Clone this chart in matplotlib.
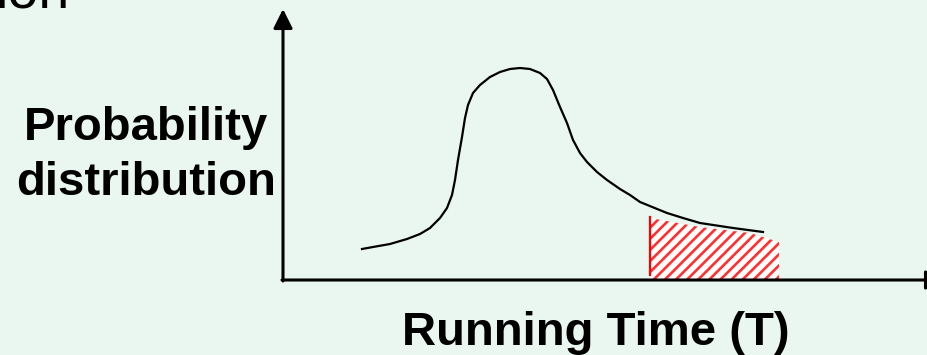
import matplotlib.pyplot as plt
import numpy as np

plt.rcParams['font.family'] = ['Liberation Sans', 'DejaVu Sans']
plt.rcParams['hatch.color'] = '#ff3030'
plt.rcParams['hatch.linewidth'] = 1.9

# curve (running time, density) in axis units
t = [79, 90, 107, 124, 137, 147, 157, 164, 169, 172, 175, 179, 182, 185,
     190, 197, 207, 217, 227, 237, 247, 257, 264, 270, 277, 284, 290, 297,
     304, 314, 324, 337, 347, 357, 384, 400, 417, 450, 480]
p = [31, 33, 36, 41, 46, 52, 62, 72, 85, 100, 120, 143, 162, 175,
     187, 195, 203, 208, 211, 212, 211, 207, 201, 190, 173, 157, 140, 127,
     118, 108, 100, 91, 85, 78, 67, 62, 57, 52, 48]

# shaded tail
tail_t = [367, 417, 467, 496]
tail_p = [62, 53, 47, 38]

ylabel_lines = ["Probability", "distribution"]
xlabel = "Running Time (T)"
title_frag = "ion"

bg = '#eaf7f0'
fig = plt.figure(figsize=(9.27, 3.55), dpi=100)
fig.patch.set_facecolor(bg)
ax = fig.add_axes([283/927, 75/355, 644/927, 280/355])
ax.set_xlim(0, 644)
ax.set_ylim(0, 280)
ax.axis('off')

ax.plot(t, p, color='black', lw=1.6, solid_joinstyle='round')

ax.fill_between(tail_t, 0, tail_p, facecolor='white', edgecolor='#ff3030',
                hatch='///', linewidth=0)
ax.plot([tail_t[0], tail_t[0]], [5, tail_p[0] + 1], color='red', lw=1.6)

arrow = dict(arrowstyle='-|>,head_length=0.58,head_width=0.29',
             mutation_scale=20, lw=2.2, color='black', shrinkA=0, shrinkB=0)
ax.annotate('', xy=(0, 271), xytext=(0, -1), arrowprops=arrow,
            annotation_clip=False)
ax.annotate('', xy=(662, 0), xytext=(-1, 0), arrowprops=arrow,
            annotation_clip=False)

ax.text(-137, 140, ylabel_lines[0], fontsize=34, fontweight='bold',
        ha='center', va='baseline', clip_on=False)
ax.text(-137, 85, ylabel_lines[1], fontsize=34, fontweight='bold',
        ha='center', va='baseline', clip_on=False)
ax.text(313, -65, xlabel, fontsize=34, fontweight='bold',
        ha='center', va='baseline', clip_on=False)
ax.text(-214, 273, title_frag, fontsize=40, ha='right', va='baseline',
        clip_on=False)

fig.savefig('out.png', dpi=100, facecolor=bg)
